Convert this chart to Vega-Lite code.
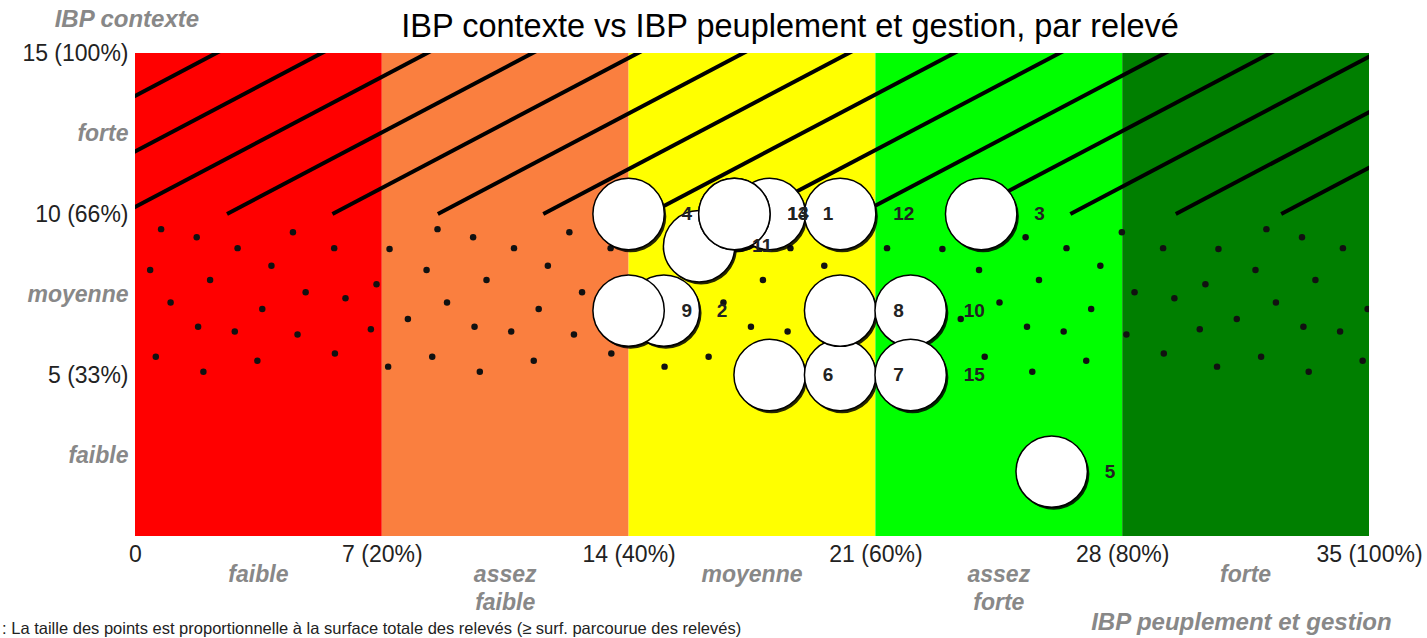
{
  "$schema": "https://vega.github.io/schema/vega-lite/v6.json",
  "description": "IBP contexte vs IBP peuplement et gestion, par relevé",
  "width": 1234,
  "height": 483,
  "autosize": {"type": "none"},
  "padding": {"left": 135, "top": 53, "right": 58, "bottom": 102},
  "background": "white",
  "config": {"view": {"stroke": null}, "axis": {"grid": false, "ticks": false, "domain": false, "labelFont": "Liberation Sans"}},
  "datasets": {
    "bands": [
      {"x": 0, "x2": 7, "b": "faible"},
      {"x": 7, "x2": 14, "b": "assez faible"},
      {"x": 14, "x2": 21, "b": "moyenne"},
      {"x": 21, "x2": 28, "b": "assez forte"},
      {"x": 28, "x2": 35, "b": "forte"}
    ],
    "hatch": [
      {"x1": -6.36, "y1": 10, "x2": 2.83, "y2": 15.3},
      {"x1": -3.37, "y1": 10, "x2": 5.82, "y2": 15.3},
      {"x1": -0.38, "y1": 10, "x2": 8.81, "y2": 15.3},
      {"x1": 2.61, "y1": 10, "x2": 11.8, "y2": 15.3},
      {"x1": 5.6, "y1": 10, "x2": 14.79, "y2": 15.3},
      {"x1": 8.59, "y1": 10, "x2": 17.78, "y2": 15.3},
      {"x1": 11.58, "y1": 10, "x2": 20.77, "y2": 15.3},
      {"x1": 14.57, "y1": 10, "x2": 23.76, "y2": 15.3},
      {"x1": 17.56, "y1": 10, "x2": 26.75, "y2": 15.3},
      {"x1": 20.55, "y1": 10, "x2": 29.74, "y2": 15.3},
      {"x1": 23.54, "y1": 10, "x2": 32.73, "y2": 15.3},
      {"x1": 26.53, "y1": 10, "x2": 35.72, "y2": 15.3},
      {"x1": 29.52, "y1": 10, "x2": 38.71, "y2": 15.3},
      {"x1": 32.51, "y1": 10, "x2": 41.7, "y2": 15.3}
    ],
    "dots": [
      {"x":0.74,"y":9.53},{"x":1.75,"y":9.28},{"x":4.48,"y":9.43},{"x":2.91,"y":8.94},{"x":5.65,"y":8.94},{"x":0.43,"y":8.26},{"x":3.87,"y":8.39},{"x":2.13,"y":7.95},{"x":6.85,"y":7.82},{"x":4.84,"y":7.57},{"x":5.97,"y":7.38},{"x":1.01,"y":7.25},{"x":3.61,"y":7.05},{"x":1.79,"y":6.5},{"x":2.83,"y":6.35},{"x":4.61,"y":6.26},{"x":6.69,"y":6.42},{"x":0.59,"y":5.57},{"x":5.67,"y":5.67},{"x":3.47,"y":5.44},{"x":1.94,"y":5.1},{"x":7.22,"y":8.91},{"x":7.74,"y":6.74},{"x":7.18,"y":5.26},
      {"x":8.58,"y":9.53},{"x":9.59,"y":9.28},{"x":12.32,"y":9.43},{"x":10.75,"y":8.94},{"x":13.49,"y":8.94},{"x":8.27,"y":8.26},{"x":11.71,"y":8.39},{"x":9.97,"y":7.95},{"x":14.69,"y":7.82},{"x":12.68,"y":7.57},{"x":13.81,"y":7.38},{"x":8.85,"y":7.25},{"x":11.45,"y":7.05},{"x":9.63,"y":6.5},{"x":10.67,"y":6.35},{"x":12.45,"y":6.26},{"x":14.53,"y":6.42},{"x":8.43,"y":5.57},{"x":13.51,"y":5.67},{"x":11.31,"y":5.44},{"x":9.78,"y":5.1},{"x":15.06,"y":8.91},{"x":15.58,"y":6.74},{"x":15.02,"y":5.26},
      {"x":16.42,"y":9.53},{"x":17.43,"y":9.28},{"x":20.16,"y":9.43},{"x":18.59,"y":8.94},{"x":21.33,"y":8.94},{"x":16.11,"y":8.26},{"x":19.55,"y":8.39},{"x":17.81,"y":7.95},{"x":22.53,"y":7.82},{"x":20.52,"y":7.57},{"x":21.65,"y":7.38},{"x":16.69,"y":7.25},{"x":19.29,"y":7.05},{"x":17.47,"y":6.5},{"x":18.51,"y":6.35},{"x":20.29,"y":6.26},{"x":22.37,"y":6.42},{"x":16.27,"y":5.57},{"x":21.35,"y":5.67},{"x":19.15,"y":5.44},{"x":17.62,"y":5.1},{"x":22.9,"y":8.91},{"x":23.42,"y":6.74},{"x":22.86,"y":5.26},
      {"x":24.25,"y":9.53},{"x":25.26,"y":9.28},{"x":27.99,"y":9.43},{"x":26.42,"y":8.94},{"x":29.16,"y":8.94},{"x":23.94,"y":8.26},{"x":27.38,"y":8.39},{"x":25.64,"y":7.95},{"x":30.36,"y":7.82},{"x":28.35,"y":7.57},{"x":29.48,"y":7.38},{"x":24.52,"y":7.25},{"x":27.12,"y":7.05},{"x":25.3,"y":6.5},{"x":26.34,"y":6.35},{"x":28.12,"y":6.26},{"x":30.2,"y":6.42},{"x":24.1,"y":5.57},{"x":29.18,"y":5.67},{"x":26.98,"y":5.44},{"x":25.45,"y":5.1},{"x":30.73,"y":8.91},{"x":31.25,"y":6.74},{"x":30.69,"y":5.26},
      {"x":32.09,"y":9.53},{"x":33.1,"y":9.28},{"x":34.26,"y":8.94},{"x":31.78,"y":8.26},{"x":33.48,"y":7.95},{"x":32.36,"y":7.25},{"x":34.96,"y":7.05},{"x":33.14,"y":6.5},{"x":34.18,"y":6.35},{"x":31.94,"y":5.57},{"x":34.82,"y":5.44},{"x":33.29,"y":5.1}
    ],
    "releves": [
      {"releve": "11", "peuplement": 16, "contexte": 9},
      {"releve": "1", "peuplement": 18, "contexte": 10},
      {"releve": "2", "peuplement": 15, "contexte": 7},
      {"releve": "4", "peuplement": 14, "contexte": 10},
      {"releve": "9", "peuplement": 14, "contexte": 7},
      {"releve": "13", "peuplement": 17, "contexte": 10},
      {"releve": "14", "peuplement": 17, "contexte": 10},
      {"releve": "12", "peuplement": 20, "contexte": 10},
      {"releve": "3", "peuplement": 24, "contexte": 10},
      {"releve": "6", "peuplement": 18, "contexte": 5},
      {"releve": "7", "peuplement": 20, "contexte": 5},
      {"releve": "8", "peuplement": 20, "contexte": 7},
      {"releve": "10", "peuplement": 22, "contexte": 7},
      {"releve": "15", "peuplement": 22, "contexte": 5},
      {"releve": "5", "peuplement": 26, "contexte": 2}
    ],
    "xcats": [
      {"x": 3.5, "y": -1.2, "t": "faible"},
      {"x": 10.5, "y": -1.2, "t": "assez\nfaible"},
      {"x": 17.5, "y": -1.2, "t": "moyenne"},
      {"x": 24.5, "y": -1.2, "t": "assez\nforte"},
      {"x": 31.5, "y": -1.2, "t": "forte"}
    ],
    "axtitles": [
      {"x": -0.23, "y": 16.02, "t": "IBP contexte"},
      {"x": 31.38, "y": -2.7, "t": "IBP peuplement et gestion"}
    ],
    "maintitle": [
      {"x": 18.58, "y": 15.81, "t": "IBP contexte vs IBP peuplement et gestion, par relevé"}
    ],
    "note": [
      {"x": -3.77, "y": -2.89, "t": ": La taille des points est proportionnelle à la surface totale des relevés (≥ surf. parcourue des relevés)"}
    ]
  },
  "layer": [
    {
      "data": {"name": "bands"},
      "mark": {"type": "rect"},
      "encoding": {
        "x": {"field": "x", "type": "quantitative", "scale": {"domain": [0, 35], "nice": false, "zero": false},
          "axis": {"title": null, "values": [0, 7, 14, 21, 28, 35], "labelExpr": "datum.value == 0 ? '0' : datum.value + ' (' + round(datum.value / 35 * 100) + '%)'", "labelFontSize": 23, "labelColor": "#222", "labelPadding": 7, "labelFlush": false, "labelOverlap": false}},
        "x2": {"field": "x2"},
        "y": {"datum": 0, "type": "quantitative", "scale": {"domain": [0, 15], "nice": false, "zero": false},
          "axis": {"title": null, "values": [2.5, 5, 7.5, 10, 12.5, 15], "labelExpr": "datum.value == 15 ? '15 (100%)' : datum.value == 10 ? '10 (66%)' : datum.value == 5 ? '5 (33%)' : datum.value == 12.5 ? 'forte' : datum.value == 7.5 ? 'moyenne' : 'faible'", "labelFontSize": 23,
            "labelColor": {"condition": {"test": "datum.value % 5 != 0", "value": "#888"}, "value": "#222"},
            "labelFontStyle": {"condition": {"test": "datum.value % 5 != 0", "value": "italic"}, "value": "normal"},
            "labelFontWeight": {"condition": {"test": "datum.value % 5 != 0", "value": "bold"}, "value": "normal"},
            "labelPadding": 7, "labelFlush": false, "labelOverlap": false}},
        "y2": {"datum": 15},
        "color": {"field": "b", "type": "nominal", "scale": {"domain": ["faible", "assez faible", "moyenne", "assez forte", "forte"], "range": ["#FF0000", "#FA7F3F", "#FFFF00", "#00FF00", "#007F00"]}, "legend": null}
      }
    },
    {
      "data": {"name": "hatch"},
      "mark": {"type": "rule", "strokeWidth": 4, "color": "#000", "clip": true},
      "encoding": {
        "x": {"field": "x1", "type": "quantitative", "title": null},
        "y": {"field": "y1", "type": "quantitative", "title": null},
        "x2": {"field": "x2"},
        "y2": {"field": "y2"}
      }
    },
    {
      "data": {"name": "dots"},
      "mark": {"type": "circle", "size": 42, "color": "#111", "opacity": 1, "clip": true},
      "encoding": {
        "x": {"field": "x", "type": "quantitative", "title": null},
        "y": {"field": "y", "type": "quantitative", "title": null}
      }
    },
    {
      "data": {"name": "releves"},
      "mark": {"type": "circle", "size": 5100, "color": "#000", "opacity": 0.85, "xOffset": 2, "yOffset": 2.5},
      "encoding": {
        "x": {"field": "peuplement", "type": "quantitative", "title": null},
        "y": {"field": "contexte", "type": "quantitative", "title": null}
      }
    },
    {
      "data": {"name": "releves"},
      "mark": {"type": "circle", "size": 5100, "fill": "#fff", "stroke": "#000", "strokeWidth": 1.5, "opacity": 1},
      "encoding": {
        "x": {"field": "peuplement", "type": "quantitative", "title": null},
        "y": {"field": "contexte", "type": "quantitative", "title": null}
      }
    },
    {
      "data": {"name": "releves"},
      "mark": {"type": "text", "align": "left", "baseline": "middle", "dx": 53, "font": "Liberation Sans", "fontSize": 19, "fontWeight": "bold", "color": "#222"},
      "encoding": {
        "x": {"field": "peuplement", "type": "quantitative", "title": null},
        "y": {"field": "contexte", "type": "quantitative", "title": null},
        "text": {"field": "releve", "type": "nominal"}
      }
    },
    {
      "data": {"name": "xcats"},
      "mark": {"type": "text", "align": "center", "baseline": "middle", "lineBreak": "\n", "lineHeight": 28, "font": "Liberation Sans", "fontSize": 23, "fontStyle": "italic", "fontWeight": "bold", "color": "#888"},
      "encoding": {
        "x": {"field": "x", "type": "quantitative", "title": null},
        "y": {"field": "y", "type": "quantitative", "title": null},
        "text": {"field": "t", "type": "nominal"}
      }
    },
    {
      "data": {"name": "axtitles"},
      "mark": {"type": "text", "align": "center", "baseline": "middle", "font": "Liberation Sans", "fontSize": 24, "fontStyle": "italic", "fontWeight": "bold", "color": "#888"},
      "encoding": {
        "x": {"field": "x", "type": "quantitative", "title": null},
        "y": {"field": "y", "type": "quantitative", "title": null},
        "text": {"field": "t", "type": "nominal"}
      }
    },
    {
      "data": {"name": "maintitle"},
      "mark": {"type": "text", "align": "center", "baseline": "middle", "font": "Liberation Sans", "fontSize": 32.5, "color": "#000"},
      "encoding": {
        "x": {"field": "x", "type": "quantitative", "title": null},
        "y": {"field": "y", "type": "quantitative", "title": null},
        "text": {"field": "t", "type": "nominal"}
      }
    },
    {
      "data": {"name": "note"},
      "mark": {"type": "text", "align": "left", "baseline": "middle", "font": "Liberation Sans", "fontSize": 16.5, "color": "#222"},
      "encoding": {
        "x": {"field": "x", "type": "quantitative", "title": null},
        "y": {"field": "y", "type": "quantitative", "title": null},
        "text": {"field": "t", "type": "nominal"}
      }
    }
  ]
}
